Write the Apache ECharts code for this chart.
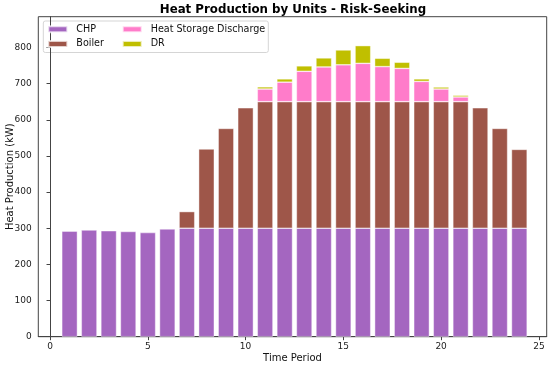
<!DOCTYPE html>
<html><head><meta charset="utf-8">
<script src="https://cdn.jsdelivr.net/npm/echarts@6/dist/echarts.min.js"></script>
<style>html,body{margin:0;padding:0;background:#fff}#c{width:550px;height:366px}</style>
</head><body><div id="c"></div>
<script>
const periods = [1,2,3,4,5,6,7,8,9,10,11,12,13,14,15,16,17,18,19,20,21,22,23,24];
const chp = [292,295,293,291,288,298,300,300,300,300,300,300,300,300,300,300,300,300,300,300,300,300,300,300];
const boiler = [0,0,0,0,0,0,46,219,276,333,350,350,350,350,350,350,350,350,350,350,350,333,276,218];
const heatStorage = [0,0,0,0,0,0,0,0,0,0,35,54,84,96,102,106,97,92,56,35,13,0,0,0];
const dr = [0,0,0,0,0,0,0,0,0,0,6,9,15,25,41,49,23,17,7,5.5,4.7,0,0,0];
const xTicks = [0,5,10,15,20,25];
const yTicks = [0,100,200,300,400,500,600,700,800];

const FONT = 'DejaVu Sans';
const W = 550, H = 366;
const gTop = 16.7, gBottom = 29.3, gLeft = 38.3, gRight = 3.3;
const xMin = -0.6, xMax = 25.4, yMax = 885;
const unit = (W - gLeft - gRight) / (xMax - xMin);
// hidden category grid for the bars: categories 0..25, each one unit wide
const cats = [];
for (let c = Math.ceil(xMin); c <= Math.floor(xMax); c++) cats.push(c);
const bLeft = gLeft + (cats[0] - 0.5 - xMin) * unit;
const bRight = W - (bLeft + cats.length * unit);
const barW = unit * 0.8;

function byCat(vals){ return cats.map(c => { const i = periods.indexOf(c); return (i >= 0 && vals[i]) ? vals[i] : '-'; }); }
function mk(name, vals, color){
  return {name, type:'bar', stack:'total', xAxisIndex:1, yAxisIndex:1, data:byCat(vals), barWidth:barW,
    itemStyle:{color, borderColor:'rgba(255,255,255,0.7)', borderWidth:0.6}, emphasis:{disabled:true}};
}
const legendText = {fontFamily:FONT, fontSize:9.6, color:'#111', lineHeight:12, padding:[0,0,0,4]};
const chart = echarts.init(document.getElementById('c'), null, {renderer:'canvas'});
chart.setOption({
  animation:false,
  textStyle:{fontFamily:FONT},
  title:{text:'Heat Production by Units - Risk-Seeking', left:288, textAlign:'center', top:-1,
    textStyle:{fontFamily:FONT, fontSize:11.8, fontWeight:'bold', color:'#000'}},
  grid:[
    {left:gLeft, right:gRight, top:gTop, bottom:gBottom, outerBoundsMode:'none', containLabel:false, show:true, borderColor:'#444', borderWidth:1, backgroundColor:'transparent'},
    {left:bLeft, right:bRight, top:gTop, bottom:gBottom, outerBoundsMode:'none', containLabel:false}
  ],
  legend:[
    {data:['CHP','Boiler'], orient:'vertical', left:47.3, top:23.2, padding:0, itemWidth:19, itemHeight:6, itemGap:2.7,
      icon:'rect', textStyle:legendText},
    {data:['Heat Storage Discharge','DR'], orient:'vertical', left:121.7, top:23.2, padding:0, itemWidth:19, itemHeight:6, itemGap:2.7,
      icon:'rect', textStyle:legendText}
  ],
  graphic:[{type:'rect', shape:{x:43.3, y:21, width:225, height:31.5, r:2}, style:{fill:'rgba(255,255,255,0.8)', stroke:'#d5d5d5', lineWidth:1}, z:-1, silent:true}],
  xAxis:[
    {type:'value', gridIndex:0, min:xMin, max:xMax, splitLine:{show:false},
      name:'Time Period', nameLocation:'middle', nameGap:17, nameMoveOverlap:false, nameTextStyle:{fontFamily:FONT, fontSize:10, color:'#111'},
      axisLine:{show:true, onZero:false, lineStyle:{color:'#444'}},
      axisTick:{show:true, length:3.5, customValues:xTicks, lineStyle:{color:'#444'}},
      axisLabel:{customValues:xTicks, fontFamily:FONT, fontSize:9, color:'#222', margin:5}},
    {type:'category', gridIndex:1, data:cats, boundaryGap:true, show:false}
  ],
  yAxis:[
    {type:'value', gridIndex:0, min:0, max:yMax, splitLine:{show:false},
      name:'Heat Production (kW)', nameLocation:'middle', nameGap:23, nameMoveOverlap:false, nameTextStyle:{fontFamily:FONT, fontSize:10, color:'#111'},
      axisLine:{show:true, lineStyle:{color:'#444'}},
      axisTick:{show:true, length:3.5, customValues:yTicks, lineStyle:{color:'#444'}},
      axisLabel:{customValues:yTicks, fontFamily:FONT, fontSize:9, color:'#222', margin:6.5}},
    {type:'value', gridIndex:1, min:0, max:yMax, show:false, splitLine:{show:false}}
  ],
  series:[
    mk('CHP', chp, '#a466c0'),
    mk('Boiler', boiler, '#9e5649'),
    mk('Heat Storage Discharge', heatStorage, '#ff7cca'),
    mk('DR', dr, '#c0bf00')
  ]
});
</script></body></html>
